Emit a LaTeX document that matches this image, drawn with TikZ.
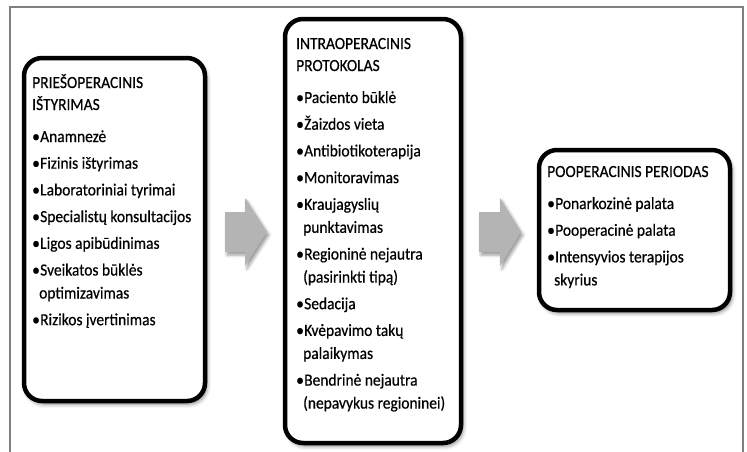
\documentclass[tikz,border=0pt]{standalone}
\usepackage{fontspec}
\setmainfont{Carlito}[FakeStretch=0.91,FakeBold=0.5]
\usetikzlibrary{shadows.blur}
\definecolor{framegray}{RGB}{128,128,128}
\definecolor{arrowgray}{RGB}{180,180,180}
\newcommand{\bitem}[1]{\par\vspace{3.7pt}\hangindent=7pt\hangafter=1\makebox[8pt][l]{•}#1}
\newcommand{\btitle}[1]{{\baselineskip=22pt #1\par}\vspace{5.3pt}}
\tikzset{
  pbox/.style={draw=black, line width=4.5pt, rounded corners=18pt, fill=white,
    blur shadow={shadow xshift=2pt, shadow yshift=-3pt, shadow blur radius=4pt, shadow opacity=50}},
  ptext/.style={anchor=base west, inner sep=0pt, font=\fontsize{17}{23}\selectfont},
  blockarrow/.style={fill=arrowgray,
    blur shadow={shadow xshift=2pt, shadow yshift=-3pt, shadow blur radius=3pt, shadow opacity=40}},
  framestyle/.style={draw=framegray, line width=1.3pt}
}
\begin{document}
\begin{tikzpicture}[x=1pt,y=-1pt]
\useasboundingbox (0,0) rectangle (747,451);
\draw[framestyle] (10,452) -- (10,7) -- (743,7) -- (743,452);

\node[pbox, minimum width=181, minimum height=343] (b1) at (114.5,229.5) {};
\node[pbox, minimum width=176, minimum height=424] (b2) at (373,231) {};
\node[pbox, minimum width=191, minimum height=160] (b3) at (634.5,230) {};

\node[ptext] (t1) at (32,88) {\parbox[t]{200pt}{\raggedright
\btitle{PRIEŠOPERACINIS\\IŠTYRIMAS}
\bitem{Anamnezė}
\bitem{Fizinis ištyrimas}
\bitem{Laboratoriniai tyrimai}
\bitem{Specialistų konsultacijos}
\bitem{Ligos apibūdinimas}
\bitem{Sveikatos būklės\newline optimizavimas}
\bitem{Rizikos įvertinimas}\par}};

\node[ptext] (t2) at (296,49) {\parbox[t]{200pt}{\raggedright
\btitle{INTRAOPERACINIS\\PROTOKOLAS}
\bitem{Paciento būklė}
\bitem{Žaizdos vieta}
\bitem{Antibiotikoterapija}
\bitem{Monitoravimas}
\bitem{Kraujagyslių\newline punktavimas}
\bitem{Regioninė nejautra\newline (pasirinkti tipą)}
\bitem{Sedacija}
\bitem{Kvėpavimo takų\newline palaikymas}
\bitem{Bendrinė nejautra\newline (nepavykus regioninei)}\par}};

\node[ptext] (t3) at (547,177) {\parbox[t]{200pt}{\raggedright
\btitle{POOPERACINIS PERIODAS}
\bitem{Ponarkozinė palata}
\bitem{Pooperacinė palata}
\bitem{Intensyvios terapijos\newline skyrius}\par}};

\fill[blockarrow] (225,212) -- (245,212) -- (245,198) -- (267,232) -- (245,266) -- (245,252) -- (225,252) -- cycle;
\fill[blockarrow] (479,212) -- (500,212) -- (500,198) -- (521,232) -- (500,266) -- (500,252) -- (479,252) -- cycle;
\end{tikzpicture}
\end{document}
